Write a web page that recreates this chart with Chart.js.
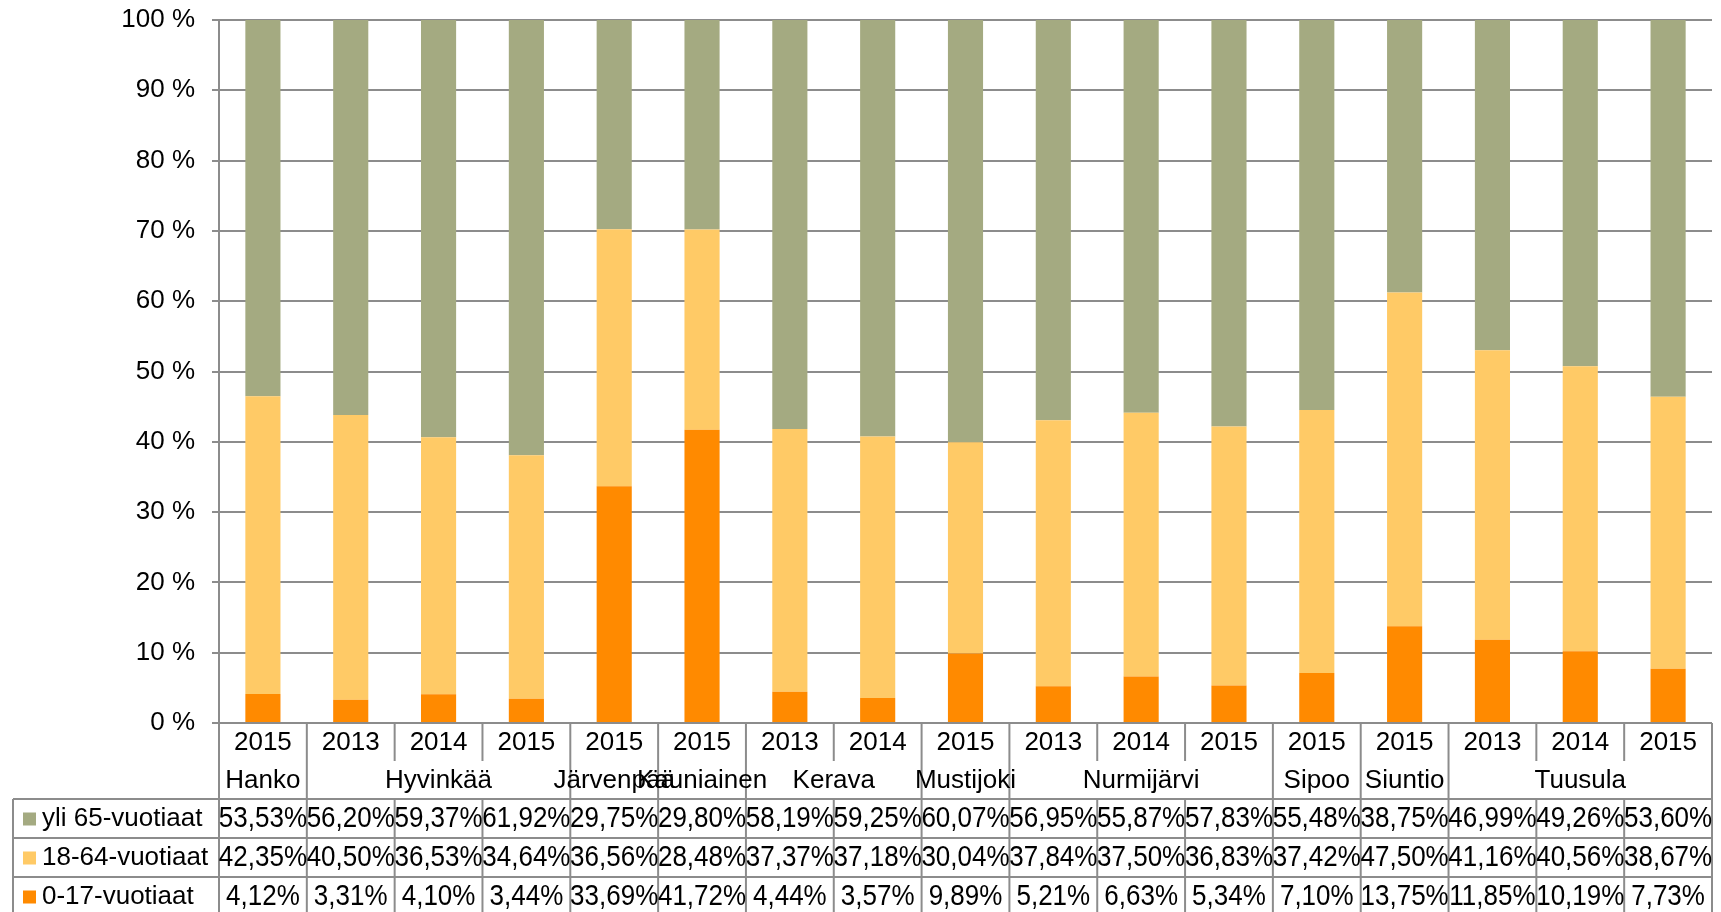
<!DOCTYPE html>
<html>
<head>
<meta charset="utf-8">
<script src="https://cdn.jsdelivr.net/npm/chart.js@4/dist/chart.umd.min.js"></script>
<style>
    body { margin: 0; background: #fff; }
    #wrap { width: 1721px; height: 912px; }
</style>
</head>
<body>
<div id="wrap"><canvas id="ageChart" width="1721" height="912"></canvas></div>
<script>
// Ikärakenne kunnittain (% osuudet)
const years = ['2015', '2013', '2014', '2015', '2015', '2015', '2013', '2014', '2015', '2013', '2014', '2015', '2015', '2015', '2013', '2014', '2015'];
const towns = ['Hanko', 'Hyvinkää', 'Hyvinkää', 'Hyvinkää', 'Järvenpää', 'Kauniainen', 'Kerava', 'Kerava', 'Mustijoki',
    'Nurmijärvi', 'Nurmijärvi', 'Nurmijärvi', 'Sipoo', 'Siuntio', 'Tuusula', 'Tuusula', 'Tuusula'];

const over65 = [53.53, 56.20, 59.37, 61.92, 29.75, 29.80, 58.19, 59.25, 60.07, 56.95, 55.87, 57.83, 55.48, 38.75, 46.99, 49.26, 53.60];
const age18to64 = [42.35, 40.50, 36.53, 34.64, 36.56, 28.48, 37.37, 37.18, 30.04, 37.84, 37.50, 36.83, 37.42, 47.50, 41.16, 40.56, 38.67];
const age0to17 = [4.12, 3.31, 4.10, 3.44, 33.69, 41.72, 4.44, 3.57, 9.89, 5.21, 6.63, 5.34, 7.10, 13.75, 11.85, 10.19, 7.73];

const yTicks = [0, 10, 20, 30, 40, 50, 60, 70, 80, 90, 100];

const GRID = '#8c8c8c';
const FONT = '26px "Liberation Sans", Arial, sans-serif';
const fmtPct = v => v.toFixed(2).replace('.', ',') + '%';

// rows of the data table, top to bottom
const tableRows = [
    { label: 'yli 65-vuotiaat', color: '#a4aa81', values: over65 },
    { label: '18-64-vuotiaat', color: '#ffca66', values: age18to64 },
    { label: '0-17-vuotiaat', color: '#ff8a00', values: age0to17 }
];

const dataTable = {
    id: 'dataTable',
    afterDraw(chart) {
        const ctx = chart.ctx;
        const x = chart.scales.x;
        const area = chart.chartArea;
        const n = years.length;
        const colW = (area.right - area.left) / n;
        const edge = i => area.left + i * colW;
        const yearTop = area.bottom, nameTop = area.bottom + 38, rowsTop = area.bottom + 76, rowH = 39;
        const bottom = chart.height;
        const legendLeft = 13;

        ctx.save();
        ctx.strokeStyle = GRID;
        ctx.lineWidth = 2;
        const line = (x1, y1, x2, y2) => { ctx.beginPath(); ctx.moveTo(x1, y1); ctx.lineTo(x2, y2); ctx.stroke(); };

        // outer verticals
        line(area.left, area.top, area.left, bottom);
        line(area.right, yearTop, area.right, bottom);
        line(legendLeft, rowsTop, legendLeft, bottom);
        // year row separators
        for (let i = 1; i < n; i++) line(edge(i), yearTop, edge(i), nameTop);
        // town group separators
        for (let i = 1; i < n; i++) {
            if (towns[i] !== towns[i - 1]) line(edge(i), nameTop, edge(i), rowsTop);
        }
        // data row grid
        for (let r = 0; r < tableRows.length; r++) line(legendLeft, rowsTop + r * rowH, area.right, rowsTop + r * rowH);
        for (let i = 1; i < n; i++) line(edge(i), rowsTop, edge(i), bottom);

        ctx.fillStyle = '#000';
        ctx.font = FONT;
        ctx.textAlign = 'center';
        ctx.textBaseline = 'middle';
        years.forEach((yr, i) => ctx.fillText(yr, x.getPixelForValue(i), yearTop + 20));

        // town names centred over their group
        let start = 0;
        for (let i = 1; i <= n; i++) {
            if (i === n || towns[i] !== towns[start]) {
                ctx.fillText(towns[start], (edge(start) + edge(i)) / 2, nameTop + 20);
                start = i;
            }
        }

        tableRows.forEach((row, r) => {
            const cy = rowsTop + r * rowH + rowH / 2;
            ctx.fillStyle = row.color;
            ctx.fillRect(23, cy - 6, 13, 13);
            ctx.fillStyle = '#000';
            ctx.textAlign = 'left';
            ctx.fillText(row.label, 42, cy);
            ctx.textAlign = 'center';
            // numbers in the table are a bit taller in the original
            row.values.forEach((v, i) => {
                ctx.save();
                ctx.translate(x.getPixelForValue(i), cy);
                ctx.scale(1, 1.12);
                ctx.fillText(fmtPct(v), 0, 0);
                ctx.restore();
            });
        });
        ctx.restore();
    }
};

Chart.defaults.font.family = '"Liberation Sans", Arial, sans-serif';
Chart.defaults.font.size = 26;
Chart.defaults.color = '#000';

new Chart(document.getElementById('ageChart'), {
    type: 'bar',
    data: {
        labels: years.map((y, i) => [y, towns[i]]),
        datasets: [
            { label: '0-17-vuotiaat', data: age0to17, backgroundColor: '#ff8a00' },
            { label: '18-64-vuotiaat', data: age18to64, backgroundColor: '#ffca66' },
            { label: 'yli 65-vuotiaat', data: over65, backgroundColor: '#a4aa81' }
        ]
    },
    options: {
        responsive: false,
        animation: false,
        layout: { padding: { top: 20, right: 9, bottom: 189, left: 0 } },
        datasets: { bar: { barPercentage: 0.4, categoryPercentage: 1 } },
        plugins: { legend: { display: false }, tooltip: { enabled: false } },
        scales: {
            x: { stacked: true, display: false },
            y: {
                stacked: true,
                min: 0,
                max: 100,
                afterFit: axis => {
                    axis.width = 219;
                    axis.paddingTop = 0;
                    axis.paddingBottom = 0;
                },
                afterBuildTicks: axis => { axis.ticks = yTicks.map(v => ({ value: v })); },
                ticks: { padding: 17, callback: v => v + ' %' },
                grid: { color: GRID, lineWidth: 2, tickLength: 7 },
                border: { color: GRID, width: 2 }
            }
        }
    },
    plugins: [dataTable]
});
</script>
</body>
</html>
